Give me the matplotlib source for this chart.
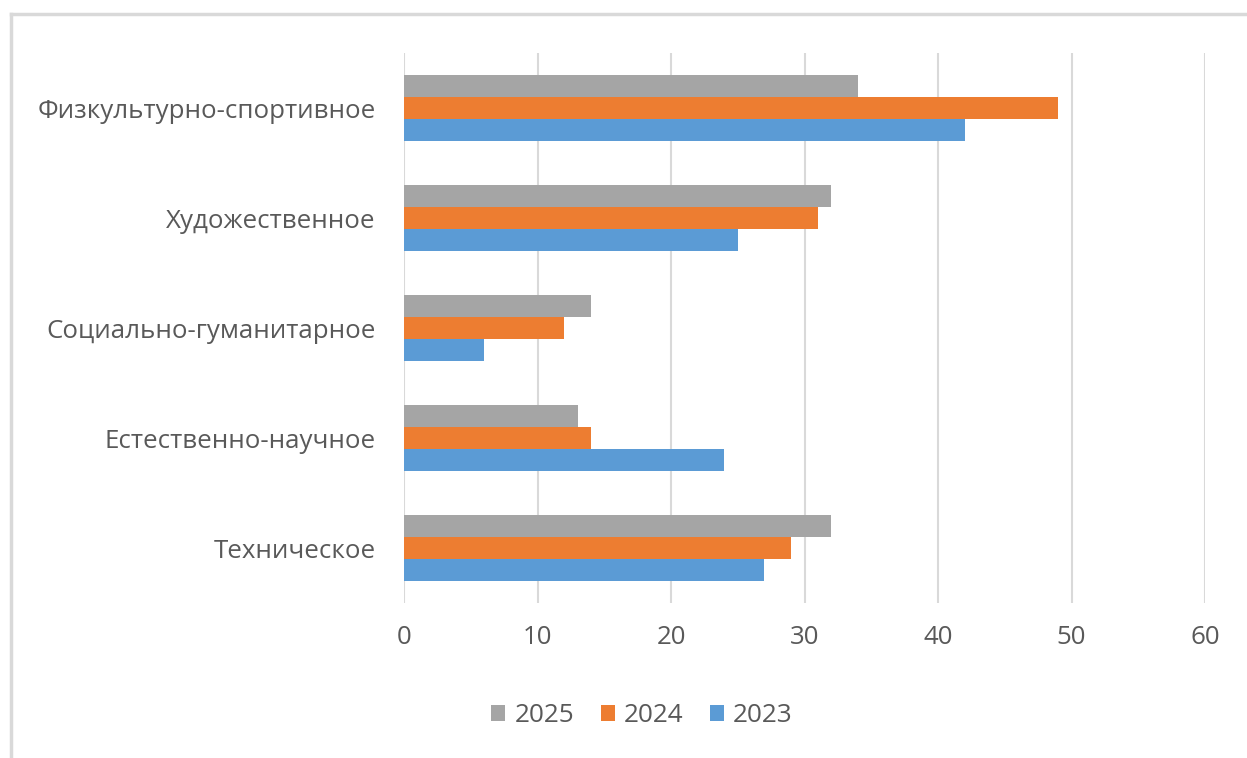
import matplotlib.pyplot as plt
import numpy as np

# Данные диаграммы
categories = ['Техническое', 'Естественно-научное', 'Социально-гуманитарное',
              'Художественное', 'Физкультурно-спортивное']
values_2025 = [32, 13, 14, 32, 34]
values_2024 = [29, 14, 12, 31, 49]
values_2023 = [27, 24, 6, 25, 42]
x_ticks = [0, 10, 20, 30, 40, 50, 60]

plt.rcParams['font.family'] = ['Open Sans', 'DejaVu Sans']

fig = plt.figure(figsize=(12.47, 7.58), dpi=100)
ax = fig.add_axes([404 / 1247, 1 - 603 / 758, 801 / 1247, 550 / 758])

y = np.arange(len(categories))
h = 0.2
ax.barh(y + h, values_2025, height=h, color='#A5A5A5', label='2025', zorder=3)
ax.barh(y, values_2024, height=h, color='#ED7D31', label='2024', zorder=3)
ax.barh(y - h, values_2023, height=h, color='#5B9BD5', label='2023', zorder=3)

ax.set_xlim(0, 60)
ax.set_ylim(-0.5, len(categories) - 0.5)
ax.set_xticks(x_ticks)
ax.set_yticks(y)
ax.set_yticklabels(categories)
ax.xaxis.grid(True, color='#D9D9D9', linewidth=1.5, zorder=0)
for s in ax.spines.values():
    s.set_visible(False)
ax.tick_params(axis='both', length=0, labelsize=18.6, colors='#595959')
ax.tick_params(axis='x', pad=16)
ax.tick_params(axis='y', pad=20.5)

# Легенда снизу
leg = fig.legend(loc='center', bbox_to_anchor=(642 / 1247, 1 - 716 / 758), ncol=3,
                 frameon=False, fontsize=18.8, handlelength=0.55, handleheight=0.55,
                 handletextpad=0.35, columnspacing=1.0, labelcolor='#595959')

# Рамка области диаграммы (видны только верх и левый край)
fig.add_artist(plt.Line2D([11 / 1247, 1], [1 - 14 / 758, 1 - 14 / 758],
                          color='#D9D9D9', linewidth=2.5))
fig.add_artist(plt.Line2D([11 / 1247, 11 / 1247], [0, 1 - 14 / 758],
                          color='#D9D9D9', linewidth=2.5))

fig.savefig('out.png', dpi=100)
